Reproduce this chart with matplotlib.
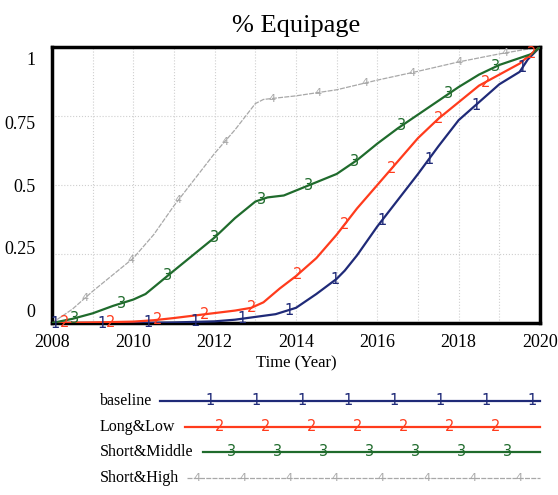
import numpy as np
import matplotlib
matplotlib.use('Agg')
import matplotlib.pyplot as plt

plt.rcParams['font.family'] = ['Liberation Serif', 'DejaVu Serif']

# data
years_base = [2008, 2010, 2011, 2012, 2012.5, 2013, 2013.5, 2014, 2014.5, 2015, 2015.2, 2015.5,
              2016, 2016.5, 2017, 2017.5, 2018, 2018.5, 2019, 2019.5, 2019.7, 2020]
baseline = [0, 0, 0.002, 0.006, 0.012, 0.022, 0.032, 0.055, 0.105, 0.16, 0.19, 0.245,
            0.35, 0.445, 0.54, 0.64, 0.735, 0.8, 0.865, 0.91, 0.955, 1.0]

years_low = [2008, 2009, 2010, 2010.5, 2011, 2011.5, 2012, 2012.5, 2012.9, 2013.2, 2013.6, 2014,
             2014.5, 2015, 2015.5, 2016, 2016.5, 2017, 2017.5, 2018, 2018.5, 2019, 2019.5, 2019.7, 2020]
long_low = [0, 0.002, 0.005, 0.01, 0.018, 0.027, 0.036, 0.045, 0.055, 0.075, 0.125, 0.17,
            0.235, 0.32, 0.415, 0.5, 0.585, 0.67, 0.74, 0.8, 0.86, 0.9, 0.94, 0.965, 1.0]

years_mid = [2008, 2008.5, 2009, 2009.5, 2010, 2010.3, 2011, 2012, 2012.5, 2013, 2013.3, 2013.7,
             2014, 2014.5, 2015, 2015.5, 2016, 2016.5, 2017, 2017.5, 2018, 2018.5, 2019, 2019.5, 2019.8, 2020]
short_mid = [0, 0.015, 0.035, 0.062, 0.085, 0.105, 0.19, 0.31, 0.38, 0.44, 0.455, 0.462,
             0.48, 0.51, 0.54, 0.59, 0.65, 0.705, 0.755, 0.805, 0.855, 0.9, 0.935, 0.96, 0.975, 1.0]

years_high = [2008, 2008.5, 2009, 2010, 2010.5, 2011, 2012, 2012.5, 2013, 2013.2, 2014, 2015,
              2016, 2017, 2018, 2019, 2019.6, 2020]
short_high = [0, 0.05, 0.115, 0.235, 0.32, 0.425, 0.615, 0.7, 0.795, 0.81, 0.823, 0.845,
              0.88, 0.912, 0.946, 0.975, 0.99, 1.0]

names = ['baseline', 'Long&Low', 'Short&Middle', 'Short&High']
colors = ['#1f2a78', '#ff3b1c', '#1f6b2c', '#a8a8a8']
marks = ['1', '2', '3', '4']
first_mark = [2008.07, 2008.3, 2008.55, 2008.8]
x_ticks = [2008, 2010, 2012, 2014, 2016, 2018, 2020]
y_labels = ['0', '0.25', '0.5', '0.75', '1']

series = [(years_base, baseline), (years_low, long_low), (years_mid, short_mid), (years_high, short_high)]

fig = plt.figure(figsize=(5.58, 4.95), dpi=100)
ax = fig.add_axes([52/558, 1-323/495, 488/558, 276/495])

for i, (x, y) in enumerate(series):
    if i == 3:
        ax.plot(x, y, color=colors[i], lw=0.9, ls=(0, (4, 1)), zorder=2)
    else:
        ax.plot(x, y, color=colors[i], lw=1.6, zorder=3)
    mx = np.arange(first_mark[i], 2020, 1.15)
    my = np.interp(mx, x, y)
    for a, b in zip(mx, my):
        ax.text(a, b, marks[i], color=colors[i], ha='center', va='center',
                fontsize=8 if i == 3 else 10.5, family='DejaVu Sans', zorder=4)

ax.set_xlim(2008, 2020)
ax.set_ylim(0, 1)
ax.set_xticks(x_ticks)
ax.set_xticklabels([str(v) for v in x_ticks], fontsize=13)
# Vensim-style labels sit inside the grid lines
ax.set_yticks([0.047, 0.272, 0.5, 0.728, 0.96])
ax.set_yticklabels(y_labels, fontsize=13)
ax.tick_params(length=0, pad=8)
ax.tick_params(axis='y', pad=12)
for yy in [0.25, 0.5, 0.75]:
    ax.axhline(yy, color='#cfcfcf', lw=0.8, ls=':', zorder=1)
for xx in range(2009, 2020):
    ax.axvline(xx, color='#cfcfcf', lw=0.8, ls=':', zorder=1)
for s in ax.spines.values():
    s.set_linewidth(2.5)
ax.set_xlabel('Time (Year)', fontsize=12, labelpad=3)
ax.set_title('% Equipage', fontsize=19, pad=11)

# legend area below the plot, in pixel units
lg = fig.add_axes([0, 0, 1, 1 - 380/495])
lg.set_xlim(0, 558)
lg.set_ylim(495, 380)
lg.axis('off')
leg_y = [401, 427, 452, 478]
leg_x0 = [160, 185, 203, 187]
leg_m0 = [210, 220, 232, 197]
for i in range(4):
    lg.text(100, leg_y[i], names[i], fontsize=11.5, va='center', ha='left')
    if i == 3:
        lg.plot([leg_x0[i], 540], [leg_y[i]] * 2, color=colors[i], lw=0.9, ls=(0, (4, 1)))
    else:
        lg.plot([leg_x0[i], 540], [leg_y[i]] * 2, color=colors[i], lw=1.6)
    for mxp in np.arange(leg_m0[i], 541, 46):
        lg.text(mxp, leg_y[i], marks[i], color=colors[i], ha='center', va='center',
                fontsize=8 if i == 3 else 10.5, family='DejaVu Sans')

fig.savefig('out.png', dpi=100)
